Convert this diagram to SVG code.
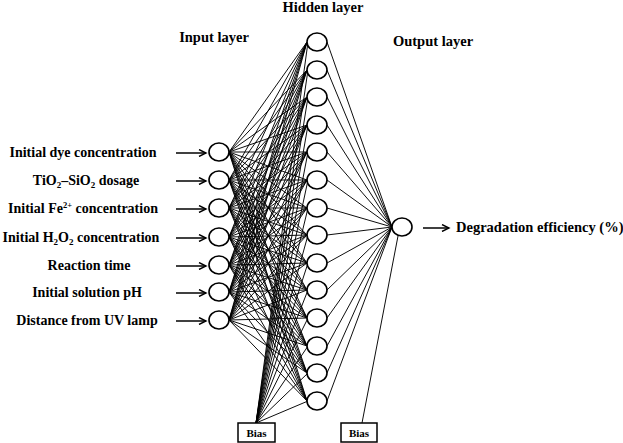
<svg xmlns="http://www.w3.org/2000/svg" width="623" height="443" viewBox="0 0 623 443">
<defs>
<marker id="ah" markerWidth="10" markerHeight="8" refX="8" refY="4" orient="auto" markerUnits="userSpaceOnUse">
<path d="M1,0.5 L8,4 L1,7.5" fill="none" stroke="#000" stroke-width="1.4"/>
</marker>
</defs>
<style>
text{font-family:"Liberation Serif","Times New Roman",serif;font-weight:bold;fill:#000}
.lbl{font-size:14px;text-anchor:middle}
.hdr{font-size:14.5px;text-anchor:middle}
.node{fill:#fff;stroke:#000;stroke-width:1.6}
.w{fill:none;stroke:#000;stroke-width:0.95}
.arr{fill:none;stroke:#000;stroke-width:1.5;marker-end:url(#ah)}
.box{fill:#fff;stroke:#000;stroke-width:1.5}
.bt{font-size:11px;text-anchor:middle}
</style>
<rect width="623" height="443" fill="#fff"/>
<g id="connectors">
<path class="w" d="M229,152L307,42M229,152L307,70M229,152L307,97M229,152L307,125M229,152L307,152M229,152L307,180M229,152L307,208M229,152L307,235M229,152L307,263M229,152L307,290M229,152L307,318M229,152L307,346M229,152L307,373M229,152L307,401"/>
<path class="w" d="M229,180L307,42M229,180L307,70M229,180L307,97M229,180L307,125M229,180L307,152M229,180L307,180M229,180L307,208M229,180L307,235M229,180L307,263M229,180L307,290M229,180L307,318M229,180L307,346M229,180L307,373M229,180L307,401"/>
<path class="w" d="M229,208L307,42M229,208L307,70M229,208L307,97M229,208L307,125M229,208L307,152M229,208L307,180M229,208L307,208M229,208L307,235M229,208L307,263M229,208L307,290M229,208L307,318M229,208L307,346M229,208L307,373M229,208L307,401"/>
<path class="w" d="M229,237L307,42M229,237L307,70M229,237L307,97M229,237L307,125M229,237L307,152M229,237L307,180M229,237L307,208M229,237L307,235M229,237L307,263M229,237L307,290M229,237L307,318M229,237L307,346M229,237L307,373M229,237L307,401"/>
<path class="w" d="M229,265L307,42M229,265L307,70M229,265L307,97M229,265L307,125M229,265L307,152M229,265L307,180M229,265L307,208M229,265L307,235M229,265L307,263M229,265L307,290M229,265L307,318M229,265L307,346M229,265L307,373M229,265L307,401"/>
<path class="w" d="M229,292L307,42M229,292L307,70M229,292L307,97M229,292L307,125M229,292L307,152M229,292L307,180M229,292L307,208M229,292L307,235M229,292L307,263M229,292L307,290M229,292L307,318M229,292L307,346M229,292L307,373M229,292L307,401"/>
<path class="w" d="M229,320L307,42M229,320L307,70M229,320L307,97M229,320L307,125M229,320L307,152M229,320L307,180M229,320L307,208M229,320L307,235M229,320L307,263M229,320L307,290M229,320L307,318M229,320L307,346M229,320L307,373M229,320L307,401"/>
<path class="w" d="M256,423L308,42M256,423L308,70M256,423L308,97M256,423L308,125M256,423L308,152M256,423L308,180M256,423L308,208M256,423L308,235M256,423L308,263M256,423L308,290M256,423L308,318M256,423L308,346M256,423L308,373M256,423L308,401"/>
<path class="w" d="M327,42L392,227M327,70L392,227M327,97L392,227M327,125L392,227M327,152L392,227M327,180L392,227M327,208L392,227M327,235L392,227M327,263L392,227M327,290L392,227M327,318L392,227M327,346L392,227M327,373L392,227M327,401L392,227"/>
<path class="w" d="M362,423L398,236"/>
<path class="arr" d="M176,153H206"/>
<path class="arr" d="M176,181H206"/>
<path class="arr" d="M176,209H206"/>
<path class="arr" d="M176,238H206"/>
<path class="arr" d="M176,266H206"/>
<path class="arr" d="M176,293H206"/>
<path class="arr" d="M176,321H206"/>
<path class="arr" d="M423,228H449"/>
</g>
<g id="headers">
<text class="hdr" x="323" y="12">Hidden layer</text>
<text class="hdr" x="214" y="42">Input layer</text>
<text class="hdr" x="433" y="46">Output layer</text>
</g>
<g id="input-labels">
<text class="lbl" x="83" y="157">Initial dye concentration</text>
<text class="lbl" x="86" y="185">TiO<tspan font-size="9" dy="3">2</tspan><tspan dy="-3">–SiO</tspan><tspan font-size="9" dy="3">2</tspan><tspan dy="-3"> dosage</tspan></text>
<text class="lbl" x="83" y="213">Initial Fe<tspan font-size="8.5" dy="-5">2+</tspan><tspan dy="5"> concentration</tspan></text>
<text class="lbl" x="81" y="242">Initial H<tspan font-size="9" dy="3">2</tspan><tspan dy="-3">O</tspan><tspan font-size="9" dy="3">2</tspan><tspan dy="-3"> concentration</tspan></text>
<text class="lbl" x="89" y="270">Reaction time</text>
<text class="lbl" x="87" y="297">Initial solution pH</text>
<text class="lbl" x="87" y="325">Distance from UV lamp</text>
</g>
<g id="input-nodes">
<ellipse id="in1" class="node" cx="219" cy="152" rx="10" ry="9"/>
<ellipse id="in2" class="node" cx="219" cy="180" rx="10" ry="9"/>
<ellipse id="in3" class="node" cx="219" cy="208" rx="10" ry="9"/>
<ellipse id="in4" class="node" cx="219" cy="237" rx="10" ry="9"/>
<ellipse id="in5" class="node" cx="219" cy="265" rx="10" ry="9"/>
<ellipse id="in6" class="node" cx="219" cy="292" rx="10" ry="9"/>
<ellipse id="in7" class="node" cx="219" cy="320" rx="10" ry="9"/>
</g>
<g id="hidden-nodes">
<ellipse id="h1" class="node" cx="317" cy="42" rx="10" ry="9"/>
<ellipse id="h2" class="node" cx="317" cy="70" rx="10" ry="9"/>
<ellipse id="h3" class="node" cx="317" cy="97" rx="10" ry="9"/>
<ellipse id="h4" class="node" cx="317" cy="125" rx="10" ry="9"/>
<ellipse id="h5" class="node" cx="317" cy="152" rx="10" ry="9"/>
<ellipse id="h6" class="node" cx="317" cy="180" rx="10" ry="9"/>
<ellipse id="h7" class="node" cx="317" cy="208" rx="10" ry="9"/>
<ellipse id="h8" class="node" cx="317" cy="235" rx="10" ry="9"/>
<ellipse id="h9" class="node" cx="317" cy="263" rx="10" ry="9"/>
<ellipse id="h10" class="node" cx="317" cy="290" rx="10" ry="9"/>
<ellipse id="h11" class="node" cx="317" cy="318" rx="10" ry="9"/>
<ellipse id="h12" class="node" cx="317" cy="346" rx="10" ry="9"/>
<ellipse id="h13" class="node" cx="317" cy="373" rx="10" ry="9"/>
<ellipse id="h14" class="node" cx="317" cy="401" rx="10" ry="9"/>
</g>
<g id="output-node">
<ellipse class="node" cx="402" cy="227" rx="10" ry="9"/>
<text x="456" y="232" style="font-size:14.5px">Degradation efficiency (%)</text>
</g>
<g id="bias1">
<rect class="box" x="238" y="423" width="37" height="19"/>
<text class="bt" x="256.5" y="436.5">Bias</text>
</g>
<g id="bias2">
<rect class="box" x="341" y="423" width="36" height="19"/>
<text class="bt" x="359" y="436.5">Bias</text>
</g>
</svg>
